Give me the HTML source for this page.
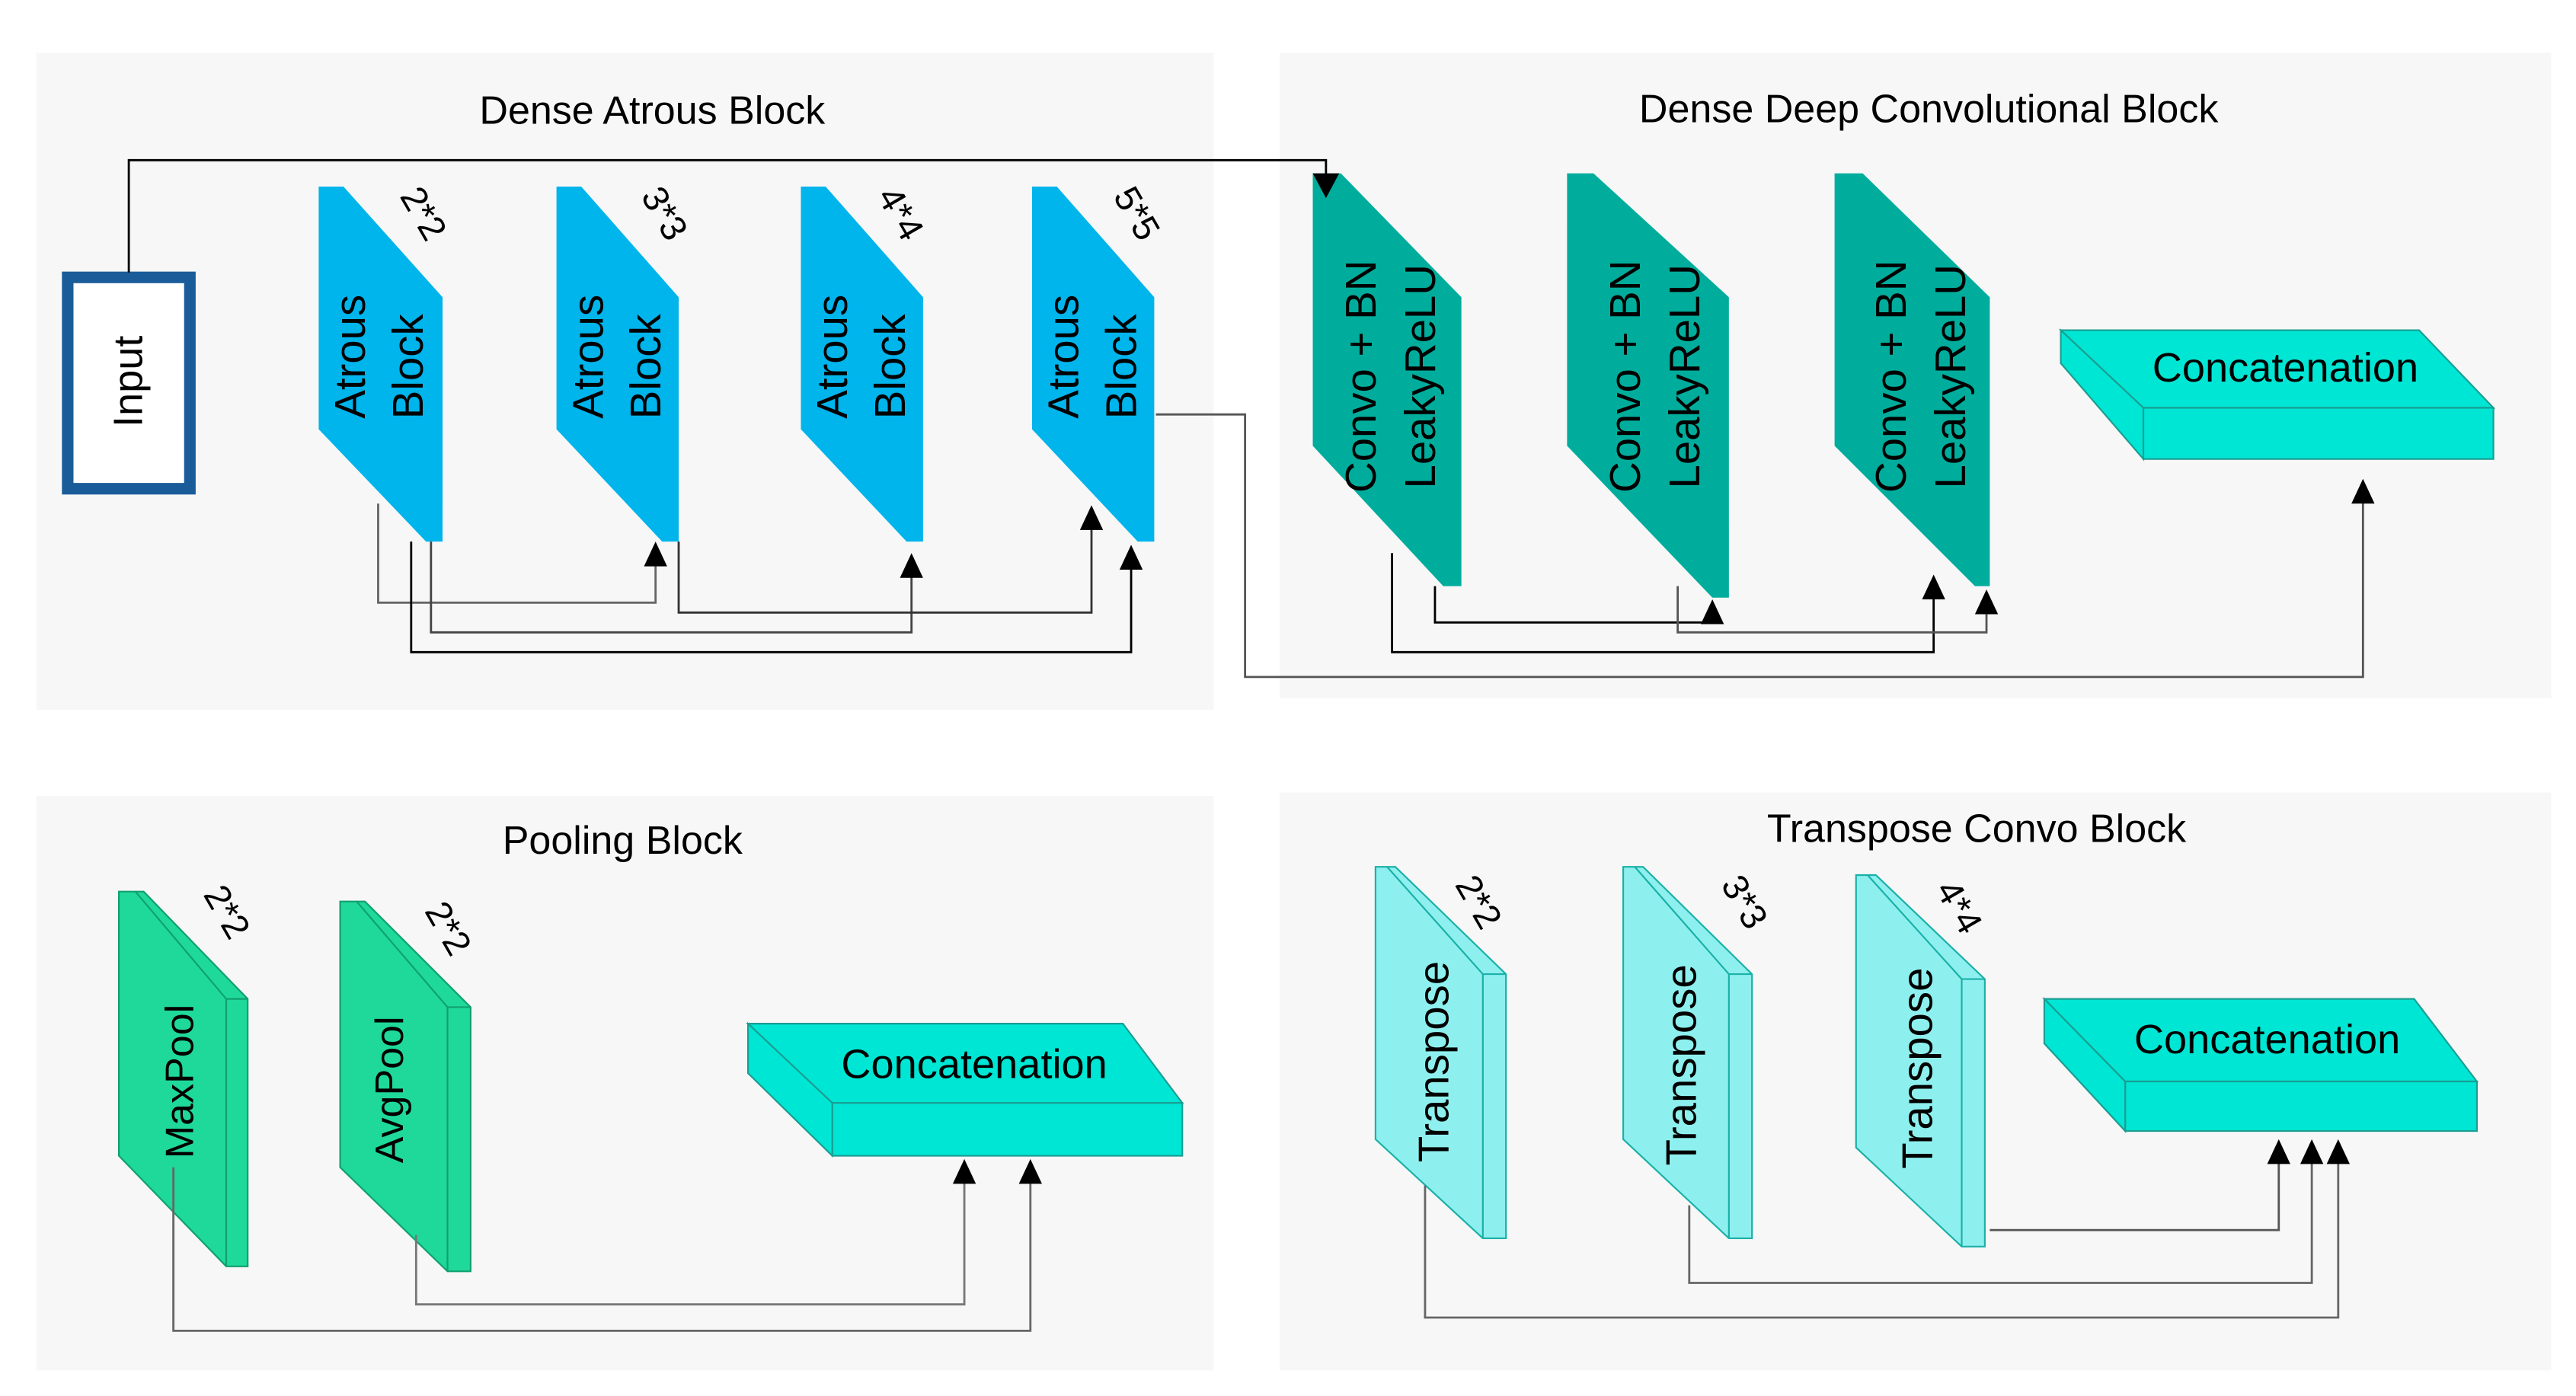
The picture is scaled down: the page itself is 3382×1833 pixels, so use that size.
<!DOCTYPE html>
<html><head><meta charset="utf-8"><style>html,body{margin:0;padding:0;background:#fff}svg{display:block}text{font-family:"Liberation Sans",Arial,sans-serif;fill:#000}</style></head><body>
<svg width="3382" height="1833" viewBox="0 0 1560 845.5" preserveAspectRatio="none" xmlns="http://www.w3.org/2000/svg">
<rect width="1560" height="846" fill="#fff"/>
<rect x="22" y="32" width="713" height="398" fill="#f7f7f7"/>
<rect x="775" y="32" width="770" height="391" fill="#f7f7f7"/>
<rect x="22" y="482" width="713" height="348" fill="#f7f7f7"/>
<rect x="775" y="480" width="770" height="350" fill="#f7f7f7"/>
<g font-size="24" text-anchor="middle">
<text x="395" y="75">Dense Atrous Block</text>
<text x="1168" y="74">Dense Deep Convolutional Block</text>
<text x="377" y="517">Pooling Block</text>
<text x="1197" y="510">Transpose Convo Block</text>
</g>
<rect x="41" y="168" width="74" height="128" fill="#fff" stroke="#1a5c9a" stroke-width="7"/>
<text font-size="25" text-anchor="middle" transform="translate(86,231) rotate(-90)">Input</text>
<g fill="#00b4ec">
<polygon points="193,113 208,113 268,180 268,328 258,328 193,260"/>
<polygon points="337,113 352,113 411,180 411,328 401,328 337,260"/>
<polygon points="485,113 500,113 559,180 559,328 549,328 485,260"/>
<polygon points="625,113 640,113 699,180 699,328 689,328 625,260"/>
</g>
<g font-size="26" text-anchor="middle">
<text transform="translate(221,216) rotate(-90)">Atrous</text><text transform="translate(256,222) rotate(-90)">Block</text>
<text transform="translate(365,216) rotate(-90)">Atrous</text><text transform="translate(400,222) rotate(-90)">Block</text>
<text transform="translate(513,216) rotate(-90)">Atrous</text><text transform="translate(548,222) rotate(-90)">Block</text>
<text transform="translate(653,216) rotate(-90)">Atrous</text><text transform="translate(688,222) rotate(-90)">Block</text>
</g>
<g font-size="22" text-anchor="middle">
<text transform="translate(250,133) rotate(60)">2*2</text>
<text transform="translate(396,133) rotate(60)">3*3</text>
<text transform="translate(539,133) rotate(60)">4*4</text>
<text transform="translate(682,133) rotate(60)">5*5</text>
<text transform="translate(131,556) rotate(60)">2*2</text>
<text transform="translate(265,566) rotate(60)">2*2</text>
<text transform="translate(889,550) rotate(60)">2*2</text>
<text transform="translate(1050,550) rotate(60)">3*3</text>
<text transform="translate(1180,553) rotate(60)">4*4</text>
</g>
<g fill="#00ad9c">
<polygon points="795,105 812,105 885,180 885,355 874,355 795,270"/>
<polygon points="949,105 965,105 1047,180 1047,362 1037,362 949,270"/>
<polygon points="1111,105 1128,105 1205,180 1205,355 1196,355 1111,270"/>
</g>
<g font-size="26" text-anchor="middle">
<text transform="translate(833,228) rotate(-90)">Convo + BN</text><text transform="translate(869,228) rotate(-90)">LeakyReLU</text>
<text transform="translate(993,228) rotate(-90)">Convo + BN</text><text transform="translate(1029,228) rotate(-90)">LeakyReLU</text>
<text transform="translate(1154,228) rotate(-90)">Convo + BN</text><text transform="translate(1190,228) rotate(-90)">LeakyReLU</text>
</g>
<g fill="#00e6d4" stroke="#1a9e92" stroke-width="1">
<polygon points="1248,200 1465,200 1510,247 1298,247"/><rect x="1298" y="247" width="212" height="31"/><polygon points="1248,200 1248,220 1298,278 1298,247"/>
<polygon points="453,620 680,620 716,668 504,668"/><rect x="504" y="668" width="212" height="32"/><polygon points="453,620 453,650 504,700 504,668"/>
<polygon points="1238,605 1462,605 1500,655 1287,655"/><rect x="1287" y="655" width="213" height="30"/><polygon points="1238,605 1238,632 1287,685 1287,655"/>
</g>
<g font-size="25" text-anchor="middle">
<text x="1384" y="231">Concatenation</text><text x="590" y="653">Concatenation</text><text x="1373" y="638">Concatenation</text>
</g>
<g fill="#1fd99a" stroke="#10a070" stroke-width="1">
<polygon points="72,540 87,540 150,605 150,767 137,767 72,700"/><polyline points="82,540 137,605 137,767" fill="none"/><line x1="137" y1="605" x2="150" y2="605"/>
<polygon points="206,546 221,546 285,610 285,770 271,770 206,707"/><polyline points="216,546 271,610 271,770" fill="none"/><line x1="271" y1="610" x2="285" y2="610"/>
</g>
<g font-size="24" text-anchor="middle">
<text transform="translate(117,655) rotate(-90)">MaxPool</text>
<text transform="translate(244,660) rotate(-90)">AvgPool</text>
</g>
<g fill="#8ef0ee" stroke="#1ab0a8" stroke-width="1">
<polygon points="833,525 845,525 912,590 912,750 898,750 833,690"/><polyline points="840,525 898,590 898,750" fill="none"/><line x1="898" y1="590" x2="912" y2="590"/>
<polygon points="983,525 995,525 1061,590 1061,750 1047,750 983,690"/><polyline points="990,525 1047,590 1047,750" fill="none"/><line x1="1047" y1="590" x2="1061" y2="590"/>
<polygon points="1124,530 1136,530 1202,593 1202,755 1188,755 1124,695"/><polyline points="1131,530 1188,593 1188,755" fill="none"/><line x1="1188" y1="593" x2="1202" y2="593"/>
</g>
<g font-size="26" text-anchor="middle">
<text transform="translate(877,643) rotate(-90)">Transpose</text>
<text transform="translate(1027,645) rotate(-90)">Transpose</text>
<text transform="translate(1170,647) rotate(-90)">Transpose</text>
</g>
<g fill="none" stroke="#000" stroke-width="1.3">
<polyline points="78,165 78,97 803,97 803,106"/>
<polyline points="700,251 754,251 754,410 1431,410 1431,304" stroke="#555"/>
<polyline points="229,305 229,365 397,365 397,342" stroke="#666"/>
<polyline points="261,328 261,383 552,383 552,349" stroke="#444"/>
<polyline points="249,328 249,395 685,395 685,344"/>
<polyline points="411,328 411,371 661,371 661,320" stroke="#333"/>
<polyline points="843,335 843,395 1171,395 1171,362"/>
<polyline points="869,355 869,377 1037,377"/>
<polyline points="1016,355 1016,383 1203,383 1203,371" stroke="#555"/>
<polyline points="105,707 105,806 624,806 624,716" stroke="#666"/>
<polyline points="252,748 252,790 584,790 584,716" stroke="#777"/>
<polyline points="1205,745 1380,745 1380,704" stroke="#555"/>
<polyline points="1023,730 1023,777 1400,777 1400,704" stroke="#666"/>
<polyline points="863,718 863,798 1416,798 1416,704" stroke="#666"/>
</g>
<g fill="#000">
<polygon points="795,105 811,105 803,120"/>
<polygon points="1424,305 1438,305 1431,290"/>
<polygon points="390,343 404,343 397,328"/>
<polygon points="545,350 559,350 552,335"/>
<polygon points="678,345 692,345 685,330"/>
<polygon points="654,321 668,321 661,306"/>
<polygon points="1164,363 1178,363 1171,348"/>
<polygon points="1030,378 1044,378 1037,363"/>
<polygon points="1196,372 1210,372 1203,357"/>
<polygon points="617,717 631,717 624,702"/>
<polygon points="577,717 591,717 584,702"/>
<polygon points="1373,705 1387,705 1380,690"/>
<polygon points="1393,705 1407,705 1400,690"/>
<polygon points="1409,705 1423,705 1416,690"/>
</g>
</svg>
</body></html>
